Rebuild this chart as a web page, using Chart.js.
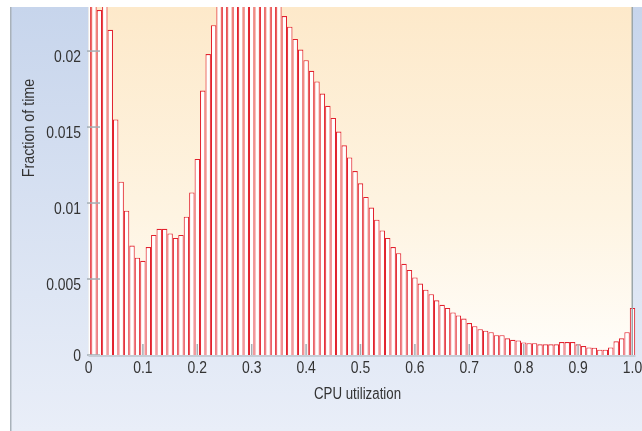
<!DOCTYPE html>
<html><head><meta charset="utf-8">
<script src="https://cdn.jsdelivr.net/npm/chart.js@4.4.0/dist/chart.umd.min.js"></script>
<style>html,body{margin:0;padding:0;background:#fff;overflow:hidden}#wrap{width:642px;height:431px;position:relative}</style>
</head><body><div id="wrap"><canvas id="c" width="642" height="431"></canvas></div>
<script>
// ---- data ----
const binCenters = [
  0.00,0.01,0.02,0.03,0.04,0.05,0.06,0.07,0.08,0.09,
  0.10,0.11,0.12,0.13,0.14,0.15,0.16,0.17,0.18,0.19,
  0.20,0.21,0.22,0.23,0.24,0.25,0.26,0.27,0.28,0.29,
  0.30,0.31,0.32,0.33,0.34,0.35,0.36,0.37,0.38,0.39,
  0.40,0.41,0.42,0.43,0.44,0.45,0.46,0.47,0.48,0.49,
  0.50,0.51,0.52,0.53,0.54,0.55,0.56,0.57,0.58,0.59,
  0.60,0.61,0.62,0.63,0.64,0.65,0.66,0.67,0.68,0.69,
  0.70,0.71,0.72,0.73,0.74,0.75,0.76,0.77,0.78,0.79,
  0.80,0.81,0.82,0.83,0.84,0.85,0.86,0.87,0.88,0.89,
  0.90,0.91,0.92,0.93,0.94,0.95,0.96,0.97,0.98,0.99,
  1.00
];
const fractionOfTime = [
  0.0260,0.0250,0.0227,0.0240,0.0214,0.0155,0.0114,0.0095,0.0072,0.0064,
  0.0062,0.0071,0.0079,0.0083,0.0083,0.0080,0.0077,0.0079,0.0091,0.0107,
  0.0129,0.0174,0.0198,0.0217,0.0240,0.0260,0.0280,0.0290,0.0300,0.0300,
  0.0300,0.0290,0.0280,0.0270,0.0250,0.0240,0.0223,0.0216,0.0208,0.0201,
  0.0194,0.0187,0.0180,0.0172,0.0164,0.0156,0.0147,0.0138,0.0130,0.0121,
  0.0113,0.0104,0.0097,0.0089,0.0082,0.0077,0.0071,0.0067,0.0060,0.0056,
  0.0051,0.0047,0.0043,0.0040,0.0036,0.0033,0.0031,0.0028,0.0026,0.0024,
  0.0021,0.0019,0.0017,0.0016,0.0015,0.0013,0.0013,0.0011,0.0010,0.00096,
  0.00083,0.00078,0.00078,0.00070,0.00070,0.00070,0.00070,0.00085,0.00085,0.00085,
  0.00070,0.00059,0.00050,0.00048,0.00035,0.00035,0.00050,0.00090,0.00110,0.00150,
  0.0031
];
const xTickValues = [0,0.1,0.2,0.3,0.4,0.5,0.6,0.7,0.8,0.9,1.0];
const xTickLabels = ['0','0.1','0.2','0.3','0.4','0.5','0.6','0.7','0.8','0.9','1.0'];
const yTickValues = [0,0.005,0.01,0.015,0.02];
const yTickLabels = ['0','0.005','0.01','0.015','0.02'];
const xTitle = 'CPU utilization';
const yTitle = 'Fraction of time';

const FONT = '"Liberation Sans",Arial,sans-serif';
const TEXT = '#333333';

// draw horizontally condensed text (the original uses a narrow face)
function narrowText(ctx, txt, x, y, size, squeeze, align) {
  ctx.save();
  ctx.font = size + 'px ' + FONT;
  ctx.textBaseline = 'middle';
  ctx.textAlign = align;
  ctx.translate(x, y);
  ctx.scale(squeeze, 1);
  ctx.fillText(txt, 0, 0);
  ctx.restore();
}

const decor = {
  id: 'decor',
  beforeDraw(chart) {
    const ctx = chart.ctx, a = chart.chartArea;
    ctx.save();
    ctx.fillStyle = '#ffffff';
    ctx.fillRect(0, 0, 642, 431);
    let g = ctx.createLinearGradient(0, 7, 0, 431);
    g.addColorStop(0, '#c7d5ec');
    g.addColorStop(1, '#e9eef8');
    ctx.fillStyle = g;
    ctx.fillRect(10, 7, 632, 424);
    ctx.fillStyle = '#a9b2ba';
    ctx.fillRect(10, 7, 1.5, 424);
    g = ctx.createLinearGradient(0, a.top, 0, a.bottom);
    g.addColorStop(0, '#fde9ca');
    g.addColorStop(0.6, '#fef4e2');
    g.addColorStop(1, '#fffdf9');
    ctx.fillStyle = g;
    ctx.fillRect(a.left, a.top, a.right - a.left, a.bottom - a.top);
    ctx.fillStyle = '#c3c9cf';
    ctx.fillRect(a.left, a.top, 1, a.bottom - a.top);
    ctx.restore();
  },
  afterDatasetsDraw(chart) {
    const ctx = chart.ctx, a = chart.chartArea;
    const xs = chart.scales.x, ys = chart.scales.y;
    ctx.save();
    ctx.fillStyle = '#a4aeb4';
    yTickValues.forEach(v => {
      const y = ys.getPixelForValue(v);
      ctx.fillRect(a.left - 1.5, y - 0.75, 13, 1.5);
    });
    xTickValues.forEach(v => {
      if (v <= 0 || v >= 1) return;
      const x = xs.getPixelForValue(v);
      ctx.fillRect(x - 0.75, a.bottom - 11, 1.5, 11);
    });
    ctx.fillStyle = '#9ba6aa';
    ctx.fillRect(a.right - 1, a.top, 1.5, a.bottom - a.top);
    ctx.fillStyle = '#c5cdd6';
    ctx.fillRect(a.left, a.bottom, a.right - a.left + 3, 2);
    ctx.restore();
  },
  afterDraw(chart) {
    const ctx = chart.ctx, a = chart.chartArea;
    const xs = chart.scales.x, ys = chart.scales.y;
    ctx.save();
    ctx.fillStyle = TEXT;
    // tick labels, placed by the library's scales
    yTickValues.forEach((v, i) => {
      const y = Math.min(ys.getPixelForValue(v) + 6.5, a.bottom + 2);
      narrowText(ctx, yTickLabels[i], a.left - 7.5, y, 16, 0.87, 'right');
    });
    xTickValues.forEach((v, i) => {
      narrowText(ctx, xTickLabels[i], xs.getPixelForValue(v), a.bottom + 13.5, 16, 0.87, 'center');
    });
    // axis titles
    narrowText(ctx, xTitle, (a.left + a.right) / 2 - 3, 394.5, 16, 0.83, 'center');
    ctx.save();
    ctx.translate(29, 128);
    ctx.rotate(-Math.PI / 2);
    narrowText(ctx, yTitle, 0, 0, 17, 0.84, 'center');
    ctx.restore();
    ctx.restore();
  }
};

new Chart(document.getElementById('c'), {
  type: 'bar',
  data: {
    datasets: [{
      data: binCenters.map((b, i) => ({ x: b, y: fractionOfTime[i] })),
      backgroundColor: '#ffffff',
      borderColor: '#e2222e',
      borderWidth: 1.1,
      borderSkipped: 'bottom',
      barPercentage: 1,
      categoryPercentage: 1,
      inflateAmount: 0,
      clip: { left: 0, top: 0, right: false, bottom: 0 }
    }]
  },
  options: {
    responsive: false,
    animation: false,
    devicePixelRatio: 1,
    layout: { autoPadding: false, padding: { top: 7, right: 9.5, left: 0, bottom: 0 } },
    plugins: { legend: { display: false }, tooltip: { enabled: false } },
    scales: {
      x: {
        type: 'linear', min: 0, max: 1, offset: false,
        afterFit(s) { s.height = 76; s.paddingLeft = 0; s.paddingRight = 0; },
        afterBuildTicks(s) { s.ticks = xTickValues.map(v => ({ value: v })); },
        grid: { display: false, drawTicks: false },
        border: { display: false },
        ticks: { display: false }
      },
      y: {
        type: 'linear', min: 0, max: 0.0229,
        afterFit(s) { s.width = 88.5; s.paddingTop = 0; s.paddingBottom = 0; },
        afterBuildTicks(s) { s.ticks = yTickValues.map(v => ({ value: v })); },
        grid: { display: false, drawTicks: false },
        border: { display: false },
        ticks: { display: false }
      }
    }
  },
  plugins: [decor]
});
</script>
</body></html>
